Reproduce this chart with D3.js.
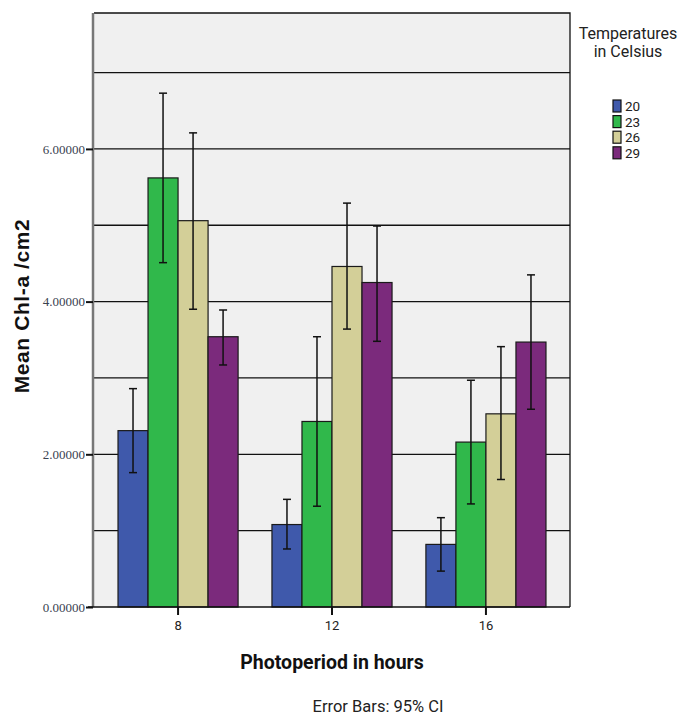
<!DOCTYPE html>
<html>
<head>
<meta charset="utf-8">
<script src="https://cdn.jsdelivr.net/npm/d3@7"></script>
<style>
  body { margin: 0; background: #fff; }
  svg { display: block; }
</style>
</head>
<body>
<div id="chart"></div>
<script>
// photoperiod groups and temperature series
const periods = ['8', '12', '16'];
const temps = ['20', '23', '26', '29'];
const colors = ['#3f59ab', '#30b84b', '#d3cf98', '#7b2a7c'];

// mean values per temperature, one entry per period
const means = {
    '20': [2.31, 1.08, 0.82],
    '23': [5.62, 2.43, 2.16],
    '26': [5.06, 4.46, 2.53],
    '29': [3.54, 4.25, 3.47]
};
// 95% CI lower / upper
const ciLow = {
    '20': [1.76, 0.76, 0.47],
    '23': [4.51, 1.32, 1.35],
    '26': [3.90, 3.64, 1.67],
    '29': [3.17, 3.48, 2.59]
};
const ciHigh = {
    '20': [2.86, 1.41, 1.17],
    '23': [6.73, 3.54, 2.97],
    '26': [6.21, 5.29, 3.41],
    '29': [3.89, 4.99, 4.35]
};
const yTicks = [0, 2, 4, 6];
const yGrid = [1, 2, 3, 4, 5, 6, 7];

const W = 686, H = 722;
const plot = { left: 94, right: 570, top: 13, bottom: 607 };

const svg = d3.select('#chart')
    .append('svg')
    .attr('width', W)
    .attr('height', H);

const x0 = d3.scaleBand()
    .domain(periods)
    .range([plot.left, plot.right])
    .paddingInner(0.22)
    .paddingOuter(0.156);

const x1 = d3.scaleBand()
    .domain(temps)
    .range([0, x0.bandwidth()]);

const y = d3.scaleLinear()
    .domain([0, 7.78])
    .range([plot.bottom, plot.top]);

// plot background
svg.append('rect')
    .attr('x', plot.left)
    .attr('y', plot.top)
    .attr('width', plot.right - plot.left)
    .attr('height', plot.bottom - plot.top)
    .attr('fill', '#f0f0f0');

// gridlines
svg.selectAll('.grid')
    .data(yGrid)
    .enter()
    .append('line')
    .attr('x1', plot.left)
    .attr('x2', plot.right)
    .attr('y1', d => y(d))
    .attr('y2', d => y(d))
    .attr('stroke', '#111')
    .attr('stroke-width', 1.3);

// frame (top + right)
svg.append('path')
    .attr('d', `M${plot.left},${plot.top}H${plot.right}V${plot.bottom}`)
    .attr('fill', 'none')
    .attr('stroke', '#111')
    .attr('stroke-width', 1.3);

// bars
const rows = [];
periods.forEach((p, i) => {
    temps.forEach((t, j) => {
        rows.push({ period: p, temp: t, ti: j, mean: means[t][i], lo: ciLow[t][i], hi: ciHigh[t][i] });
    });
});

svg.selectAll('.bar')
    .data(rows)
    .enter()
    .append('rect')
    .attr('x', d => x0(d.period) + x1(d.temp))
    .attr('y', d => y(d.mean))
    .attr('width', x1.bandwidth())
    .attr('height', d => y(0) - y(d.mean))
    .attr('fill', d => colors[d.ti])
    .attr('stroke', '#1a1a1a')
    .attr('stroke-width', 1.2);

// error bars
const cap = 4;
const eb = svg.selectAll('.err')
    .data(rows)
    .enter()
    .append('g')
    .attr('stroke', '#111')
    .attr('stroke-width', 1.5);
const cx = d => x0(d.period) + x1(d.temp) + x1.bandwidth() / 2;
eb.append('line')
    .attr('x1', cx).attr('x2', cx)
    .attr('y1', d => y(d.lo)).attr('y2', d => y(d.hi));
eb.append('line')
    .attr('x1', d => cx(d) - cap).attr('x2', d => cx(d) + cap)
    .attr('y1', d => y(d.hi)).attr('y2', d => y(d.hi));
eb.append('line')
    .attr('x1', d => cx(d) - cap).attr('x2', d => cx(d) + cap)
    .attr('y1', d => y(d.lo)).attr('y2', d => y(d.lo));

// y axis
const yAxis = svg.append('g')
    .attr('transform', `translate(${plot.left - 1}, 0)`)
    .call(d3.axisLeft(y).tickValues(yTicks).tickFormat(d3.format('.5f')).tickSize(7).tickSizeOuter(0));
yAxis.select('.domain')
    .attr('stroke', '#777')
    .attr('stroke-width', 2.5)
    .attr('d', `M0,${plot.bottom}V${plot.top}`);
yAxis.selectAll('.tick line').attr('stroke', '#111').attr('stroke-width', 2);
yAxis.selectAll('.tick text')
    .attr('x', -8)
    .attr('font-family', '"Liberation Serif", "DejaVu Serif", serif')
    .style('font-family', '"Liberation Serif", "DejaVu Serif", serif')
    .style('font-size', '13px')
    .attr('fill', '#3a4250');

// x axis
const xAxis = svg.append('g')
    .attr('transform', `translate(0, ${plot.bottom})`)
    .call(d3.axisBottom(x0).tickSize(8).tickSizeOuter(0));
xAxis.select('.domain')
    .attr('stroke', '#111')
    .attr('stroke-width', 1.5)
    .attr('d', `M${plot.left - 6},0H${plot.right}`);
xAxis.selectAll('.tick line').attr('stroke', '#111').attr('stroke-width', 2);
xAxis.selectAll('.tick text')
    .attr('y', 14)
    .style('font-family', 'Roboto, "Liberation Sans", Arial, sans-serif')
    .style('font-size', '13px')
    .attr('fill', '#222');

// axis titles
svg.append('text')
    .attr('x', 332)
    .attr('y', 669)
    .attr('text-anchor', 'middle')
    .style('font-family', 'Roboto, "Liberation Sans", Arial, sans-serif')
    .style('font-weight', 'bold')
    .style('font-size', '19.5px')
    .attr('fill', '#111')
    .text('Photoperiod in hours');

svg.append('text')
    .attr('transform', 'translate(29, 306) rotate(-90)')
    .attr('text-anchor', 'middle')
    .style('font-family', '"Liberation Sans", Arial, sans-serif')
    .style('font-weight', 'bold')
    .style('font-size', '21px')
    .style('letter-spacing', '0.6px')
    .attr('fill', '#111')
    .text('Mean Chl-a /cm2');

svg.append('text')
    .attr('x', 378)
    .attr('y', 712)
    .attr('text-anchor', 'middle')
    .style('font-family', 'Roboto, "Liberation Sans", Arial, sans-serif')
    .style('font-size', '16.5px')
    .attr('fill', '#222')
    .text('Error Bars: 95% CI');

// legend
const legend = svg.append('g');
legend.append('text')
    .attr('x', 628)
    .attr('y', 39)
    .attr('text-anchor', 'middle')
    .style('font-family', 'Roboto, "Liberation Sans", Arial, sans-serif')
    .style('font-size', '16px')
    .attr('fill', '#222')
    .text('Temperatures');
legend.append('text')
    .attr('x', 628)
    .attr('y', 57)
    .attr('text-anchor', 'middle')
    .style('font-family', 'Roboto, "Liberation Sans", Arial, sans-serif')
    .style('font-size', '16px')
    .attr('fill', '#222')
    .text('in Celsius');

const items = legend.selectAll('.item')
    .data(temps)
    .enter()
    .append('g')
    .attr('transform', (d, i) => `translate(613, ${100 + i * 15.6})`);
items.append('rect')
    .attr('width', 8)
    .attr('height', 12)
    .attr('fill', (d, i) => colors[i])
    .attr('stroke', '#111')
    .attr('stroke-width', 1.2);
items.append('text')
    .attr('x', 12)
    .attr('y', 11)
    .style('font-family', 'Roboto, "Liberation Sans", Arial, sans-serif')
    .style('font-size', '13.5px')
    .attr('fill', '#222')
    .text(d => d);
</script>
</body>
</html>
